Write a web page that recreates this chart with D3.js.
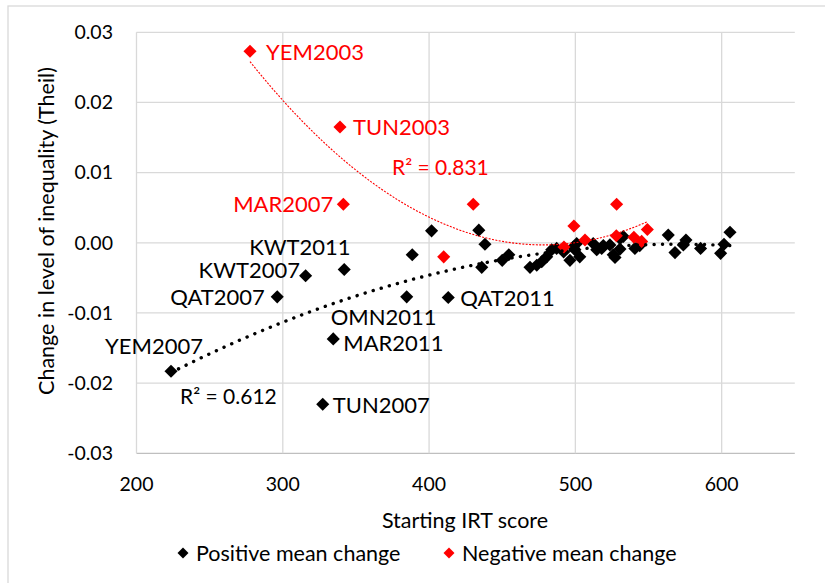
<!DOCTYPE html>
<html>

<head>
  <meta charset="utf-8">
  <title>Starting IRT score vs change in inequality</title>
  <style>
    body {
      margin: 0;
      background: #fff;
      font-family: Lato, "Open Sans", sans-serif;
    }

    svg text {
      font-family: Lato, "Open Sans", sans-serif;
    }

    .grid line {
      stroke: #d9d9d9;
      stroke-width: 1.3px;
    }

    .tick-label {
      font-size: 19.5px;
      fill: #000;
    }

    .axis-title {
      font-size: 21.5px;
      fill: #000;
    }

    .point-label {
      font-size: 22px;
    }

    .legend-label {
      font-size: 21.5px;
      fill: #000;
    }
  </style>
</head>

<body>
  <svg class="chart" width="825" height="583"></svg>

  <script src="https://d3js.org/d3.v7.min.js"></script>
  <script>
    // series 1: positive mean change [starting IRT score, change in Theil]
    var positiveChange = [
      [223.6, -0.0183], [296.2, -0.0077], [315.6, -0.0047], [342.0, -0.0038],
      [334.5, -0.0137], [327.3, -0.0230], [384.7, -0.0077], [413.1, -0.0078],
      [388.5, -0.0017], [401.7, 0.0017], [434.0, 0.0018], [438.2, -0.0002],
      [436.0, -0.0035], [450.0, -0.0025], [454.5, -0.0017], [469.0, -0.0035],
      [473.6, -0.0032], [477.0, -0.0027], [480.4, -0.0020], [483.8, -0.0010],
      [487.2, -0.0008], [492.0, -0.0013], [496.3, -0.0025], [498.6, -0.0006],
      [500.9, -0.0001], [499.7, -0.0010], [503.0, -0.0020], [512.2, -0.0001],
      [514.6, -0.0010], [518.0, -0.0008], [519.1, -0.0004], [523.6, -0.0003],
      [525.9, -0.0017], [527.1, -0.0021], [530.5, -0.0009], [530.5, 0.0006],
      [532.8, 0.0009], [540.7, -0.0008], [544.0, -0.0004], [563.5, 0.0011],
      [568.1, -0.0014], [575.6, 0.0004], [573.8, -0.0003], [585.6, -0.0008],
      [599.3, -0.0015], [601.6, -0.0002], [605.7, 0.0015]
    ];
    var positiveNames = ['YEM2007', 'QAT2007', 'KWT2007', 'KWT2011', 'MAR2011', 'TUN2007', 'OMN2011', 'QAT2011'];

    // series 2: negative mean change
    var negativeChange = [
      [277.6, 0.0273], [339.1, 0.0165], [341.4, 0.0055], [430.2, 0.0055],
      [410.0, -0.0020], [499.0, 0.0024], [492.2, -0.0006], [506.6, 0.0004],
      [528.2, 0.0055], [528.0, 0.0010], [540.0, 0.0008], [545.3, 0.0002],
      [549.2, 0.0019]
    ];
    var negativeNames = ['YEM2003', 'TUN2003', 'MAR2007'];

    var seriesNames = ['Positive mean change', 'Negative mean change'];
    var rSquaredText = ['R\u00b2 = 0.612', 'R\u00b2 = 0.831'];
    var xTicks = [200, 300, 400, 500, 600];
    var yTicks = [-0.03, -0.02, -0.01, 0, 0.01, 0.02, 0.03];

    // where each data label sits relative to its marker
    var labelOffsets = {
      YEM2007: [-66, -25, 'start'],
      QAT2007: [-107, 0, 'start'],
      KWT2007: [-107, -5, 'start'],
      KWT2011: [-95, -22, 'start'],
      MAR2011: [10, 4, 'start'],
      TUN2007: [10, 1, 'start'],
      OMN2011: [-76, 20, 'start'],
      QAT2011: [12, 1, 'start'],
      YEM2003: [16, 1, 'start'],
      TUN2003: [13, 0, 'start'],
      MAR2007: [-10, 0, 'end']
    };

    var svg = d3.select('svg.chart');

    var x = d3.scaleLinear().domain([200, 650]).range([136.5, 794.8]);
    var y = d3.scaleLinear().domain([-0.03, 0.03]).range([453.3, 32.3]);

    // spreadsheet style: plain hyphen for negatives
    var tickFormat = d3.formatLocale({
      decimal: '.', thousands: ',', grouping: [3], currency: ['', ''], minus: '-'
    }).format('.2f');

    // chart frame (its right and bottom fall outside the picture)
    svg.append('rect')
      .attr('x', 8).attr('y', 6)
      .attr('width', 840).attr('height', 600)
      .attr('fill', 'none')
      .attr('stroke', '#d9d9d9')
      .attr('stroke-width', 1.3);

    var grid = svg.append('g').attr('class', 'grid');

    grid.selectAll('line.h')
      .data(yTicks)
      .enter().append('line')
      .attr('class', 'h')
      .attr('x1', x(200)).attr('x2', x(650))
      .attr('y1', function(d) { return y(d); })
      .attr('y2', function(d) { return y(d); })
      .style('stroke', function(d) { return d === -0.03 ? '#bfbfbf' : null; });

    grid.selectAll('line.v')
      .data(xTicks)
      .enter().append('line')
      .attr('class', 'v')
      .attr('y1', y(-0.03)).attr('y2', y(0.03))
      .attr('x1', function(d) { return x(d); })
      .attr('x2', function(d) { return x(d); });

    svg.selectAll('text.ytick')
      .data(yTicks)
      .enter().append('text')
      .attr('class', 'tick-label ytick')
      .attr('x', 113)
      .attr('y', function(d) { return y(d); })
      .attr('dy', '0.35em')
      .attr('text-anchor', 'end')
      .text(tickFormat);

    svg.selectAll('text.xtick')
      .data(xTicks)
      .enter().append('text')
      .attr('class', 'tick-label xtick')
      .attr('x', function(d) { return x(d); })
      .attr('y', 484)
      .attr('dy', '0.35em')
      .attr('text-anchor', 'middle')
      .text(function(d) { return d; });

    svg.append('text')
      .attr('class', 'axis-title')
      .attr('x', 465).attr('y', 520)
      .attr('dy', '0.35em')
      .attr('text-anchor', 'middle')
      .text('Starting IRT score');

    svg.append('text')
      .attr('class', 'axis-title')
      .attr('transform', 'translate(46,231) rotate(-90)')
      .attr('dy', '0.35em')
      .attr('text-anchor', 'middle')
      .text('Change in level of inequality (Theil)');

    // least squares fit of a 2nd order polynomial, like the spreadsheet trendline
    function polyFit(points) {
      var mean = d3.mean(points, function(p) { return p[0]; });
      var s = [0, 0, 0, 0, 0], t = [0, 0, 0];
      points.forEach(function(p) {
        var u = p[0] - mean;
        for (var k = 0; k < 5; k++) s[k] += Math.pow(u, k);
        for (var j = 0; j < 3; j++) t[j] += p[1] * Math.pow(u, j);
      });
      var m = [
        [s[0], s[1], s[2], t[0]],
        [s[1], s[2], s[3], t[1]],
        [s[2], s[3], s[4], t[2]]
      ];
      for (var i = 0; i < 3; i++) {
        for (var r = i + 1; r < 3; r++) {
          var f = m[r][i] / m[i][i];
          for (var c = i; c < 4; c++) m[r][c] -= f * m[i][c];
        }
      }
      var coef = [0, 0, 0];
      for (var i2 = 2; i2 >= 0; i2--) {
        var v = m[i2][3];
        for (var c2 = i2 + 1; c2 < 3; c2++) v -= m[i2][c2] * coef[c2];
        coef[i2] = v / m[i2][i2];
      }
      return function(xv) {
        var u = xv - mean;
        return coef[0] + coef[1] * u + coef[2] * u * u;
      };
    }

    function trendPoints(points) {
      var fit = polyFit(points);
      var ext = d3.extent(points, function(p) { return p[0]; });
      return d3.range(0, 101).map(function(i) {
        var xv = ext[0] + (ext[1] - ext[0]) * i / 100;
        return [xv, fit(xv)];
      });
    }

    var diamond = d3.symbol().type(d3.symbolSquare).size(86);

    function drawMarkers(points, color) {
      svg.append('g')
        .selectAll('path')
        .data(points)
        .enter().append('path')
        .attr('d', diamond)
        .attr('fill', color)
        .attr('transform', function(d) {
          return 'translate(' + x(d[0]) + ',' + y(d[1]) + ') rotate(45)';
        });
    }

    drawMarkers(positiveChange, '#000');
    drawMarkers(negativeChange, '#ff0000');

    var line = d3.line()
      .x(function(d) { return x(d[0]); })
      .y(function(d) { return y(d[1]); });

    svg.append('path')
      .datum(trendPoints(positiveChange))
      .attr('d', line)
      .attr('fill', 'none')
      .attr('stroke', '#000')
      .attr('stroke-width', 3.4)
      .attr('stroke-linecap', 'round')
      .attr('stroke-dasharray', '0.1 8.3');

    svg.append('path')
      .datum(trendPoints(negativeChange))
      .attr('d', line)
      .attr('fill', 'none')
      .attr('stroke', '#ff0000')
      .attr('stroke-width', 1.1)
      .attr('stroke-dasharray', '2 1.4');

    function drawLabels(points, names, color) {
      svg.append('g')
        .selectAll('text')
        .data(names)
        .enter().append('text')
        .attr('class', 'point-label')
        .attr('fill', color)
        .attr('x', function(d, i) { return x(points[i][0]) + labelOffsets[d][0]; })
        .attr('y', function(d, i) { return y(points[i][1]) + labelOffsets[d][1]; })
        .attr('dy', '0.35em')
        .attr('text-anchor', function(d) { return labelOffsets[d][2]; })
        .text(function(d) { return d; });
    }

    drawLabels(positiveChange, positiveNames, '#000');
    drawLabels(negativeChange, negativeNames, '#ff0000');

    svg.append('text')
      .attr('class', 'point-label')
      .attr('x', 180).attr('y', 397)
      .attr('dy', '0.35em')
      .attr('fill', '#000')
      .style('font-size', '21px')
      .text(rSquaredText[0]);

    svg.append('text')
      .attr('class', 'point-label')
      .attr('x', 392).attr('y', 167.5)
      .attr('dy', '0.35em')
      .attr('fill', '#ff0000')
      .style('font-size', '21px')
      .text(rSquaredText[1]);

    // legend
    var legend = svg.append('g')
      .selectAll('g')
      .data(seriesNames)
      .enter().append('g')
      .attr('transform', function(d, i) { return 'translate(' + [183, 449][i] + ',553)'; });

    legend.append('path')
      .attr('d', d3.symbol().type(d3.symbolSquare).size(60))
      .attr('transform', 'rotate(45)')
      .attr('fill', function(d, i) { return i === 0 ? '#000' : '#ff0000'; });

    legend.append('text')
      .attr('class', 'legend-label')
      .attr('x', 13)
      .attr('dy', '0.35em')
      .text(function(d) { return d; });
  </script>
</body>

</html>
